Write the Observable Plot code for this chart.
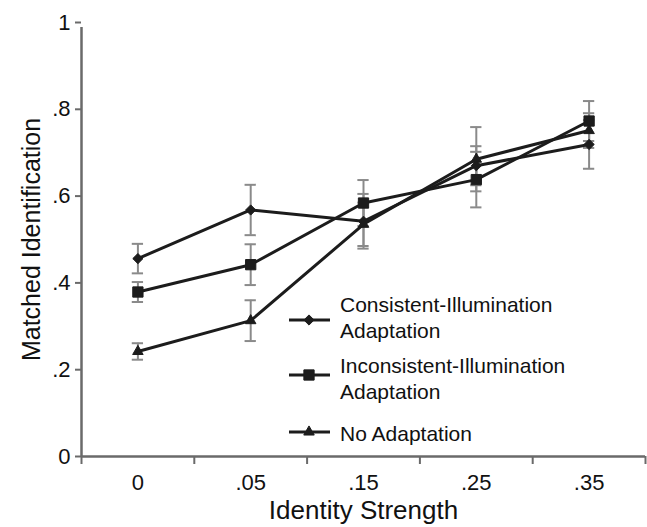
<!DOCTYPE html>
<html><head><meta charset="utf-8">
<script src="https://cdn.jsdelivr.net/npm/d3@7"></script>
<script src="https://cdn.jsdelivr.net/npm/@observablehq/plot@0.6"></script>
<style>
body{margin:0;background:#fff;font-family:"Liberation Sans",Arial,sans-serif;}
#wrap{position:relative;width:647px;height:527px;}
#legend{position:absolute;left:0;top:0;pointer-events:none;}
</style></head><body><div id="wrap"></div>
<script>
const categories = ["0", ".05", ".15", ".25", ".35"];
const seriesNames = ["Consistent-Illumination Adaptation", "Inconsistent-Illumination Adaptation", "No Adaptation"];
const legendLines = [["Consistent-Illumination", "Adaptation"], ["Inconsistent-Illumination", "Adaptation"], ["No Adaptation"]];
const consistentMean = [0.456, 0.568, 0.542, 0.670, 0.719];
const consistentErr  = [0.034, 0.058, 0.063, 0.045, 0.056];
const inconsistentMean = [0.379, 0.442, 0.584, 0.638, 0.773];
const inconsistentErr  = [0.023, 0.047, 0.053, 0.064, 0.046];
const noAdaptMean = [0.242, 0.313, 0.535, 0.685, 0.751];
const noAdaptErr  = [0.019, 0.047, 0.050, 0.074, 0.040];
const yTicks = [0, 0.2, 0.4, 0.6, 0.8, 1];
const yTickLabels = ["0", ".2", ".4", ".6", ".8", "1"];
const xTitle = "Identity Strength";
const yTitle = "Matched Identification";
const symbolNames = ["diamond2", "square", "triangle"];
const symbolFns = [d3.symbolDiamond2, d3.symbolSquare, d3.symbolTriangle];
const symbolR = [4.6, 5.8, 3.9];

const means = [consistentMean, inconsistentMean, noAdaptMean];
const errs = [consistentErr, inconsistentErr, noAdaptErr];
const rows = [];
seriesNames.forEach((s, k) => categories.forEach((c, i) => rows.push({series: s, k, cat: c, i, mean: means[k][i], err: errs[k][i]})));

const ink = "#1c1c1c", axisGray = "#6a6a6a", errGray = "#8a8a8a";
const W = 647, H = 527, mL = 81, mR = 2, mT = 22, mB = 71;
const bounds = d3.range(categories.length + 1).map(i => i - 0.5);
const labelMap = new Map(yTicks.map((t, i) => [t, yTickLabels[i]]));
const font = "'Liberation Sans', Arial, sans-serif";

const marks = [
  Plot.ruleX(rows, {x: "i", y1: d => d.mean - d.err, y2: d => d.mean + d.err, stroke: errGray, strokeWidth: 2}),
  Plot.ruleY(rows, {y: d => d.mean + d.err, x1: d => d.i - 0.05, x2: d => d.i + 0.05, stroke: errGray, strokeWidth: 2}),
  Plot.ruleY(rows, {y: d => d.mean - d.err, x1: d => d.i - 0.05, x2: d => d.i + 0.05, stroke: errGray, strokeWidth: 2}),
  Plot.line(rows, {x: "i", y: "mean", z: "series", stroke: ink, strokeWidth: 3}),
  ...seriesNames.map((s, k) => Plot.dot(rows.filter(d => d.k === k), {x: "i", y: "mean", symbol: () => symbolNames[k], r: symbolR[k], fill: ink, stroke: ink, strokeWidth: 1})),
  Plot.ruleY([0], {stroke: axisGray, strokeWidth: 2.5}),
  Plot.ruleX([bounds[0]], {y1: 0, y2: 1, insetBottom: -5, stroke: axisGray, strokeWidth: 2.5}),
  Plot.axisY({ticks: yTicks, tickFormat: d => labelMap.get(d), tickSize: 6, tickPadding: 5, fontSize: 22, stroke: axisGray, strokeWidth: 2, fill: "#111", label: null}),
  Plot.axisX({ticks: d3.range(categories.length), tickFormat: i => categories[i], tickSize: 0, tickPadding: 18, fontSize: 22, fill: "#111", label: null}),
  Plot.axisX({ticks: bounds, tickFormat: () => "", tickSize: 8, stroke: axisGray, strokeWidth: 2, label: null}),
  Plot.text([xTitle], {frameAnchor: "bottom", textAnchor: "middle", lineAnchor: "middle", dy: 54, fontSize: 26, fill: "#111"}),
  Plot.text([yTitle], {frameAnchor: "left", textAnchor: "middle", lineAnchor: "middle", rotate: -90, dx: -50, fontSize: 25, fill: "#111"})
];

const chart = Plot.plot({
  width: W, height: H,
  marginLeft: mL, marginRight: mR, marginTop: mT, marginBottom: mB,
  style: {fontFamily: font, fontSize: "22px", background: "#fff", overflow: "visible"},
  x: {type: "linear", domain: [bounds[0], bounds[bounds.length - 1]], axis: null},
  y: {domain: [0, 1], axis: null},
  symbol: {domain: symbolNames, range: symbolNames},
  marks
});
const wrap = document.getElementById("wrap");
wrap.appendChild(chart);

// Legend overlay
const lg = d3.create("svg").attr("id", "legend").attr("width", W).attr("height", H)
  .style("font-family", font);
const legendRowY = [320, 375, 432];
const textBase = [[311.7, 338.2], [372.7, 399.2], [440.7]];
seriesNames.forEach((s, k) => {
  const g = lg.append("g");
  g.append("line").attr("x1", 289).attr("x2", 330).attr("y1", legendRowY[k]).attr("y2", legendRowY[k])
    .attr("stroke", ink).attr("stroke-width", 3);
  g.append("path").attr("d", d3.symbol(symbolFns[k], Math.PI * symbolR[k] * symbolR[k])())
    .attr("transform", `translate(309,${legendRowY[k]})`).attr("fill", ink).attr("stroke", ink);
  legendLines[k].forEach((t, j) => g.append("text").attr("x", 340).attr("y", textBase[k][j])
    .attr("font-size", 21).attr("fill", "#111").text(t));
});
wrap.appendChild(lg.node());
</script></body></html>
